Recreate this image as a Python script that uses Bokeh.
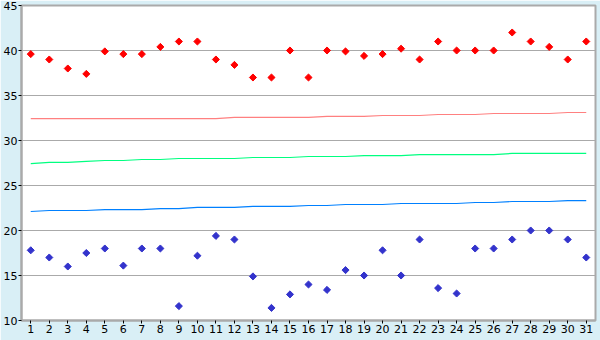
from bokeh.plotting import figure
from bokeh.models import Range1d, FixedTicker, ColumnDataSource
from bokeh.embed import file_html
from bokeh.resources import INLINE

days = list(range(1, 32))
t_max = [39.6, 39.0, 38.0, 37.4, 39.9, 39.6, 39.6, 40.4, 41.0, 41.0,
         39.0, 38.4, 37.0, 37.0, 40.0, 37.0, 40.0, 39.9, 39.4, 39.6,
         40.2, 39.0, 41.0, 40.0, 40.0, 40.0, 42.0, 41.0, 40.4, 39.0, 41.0]
t_min = [17.8, 17.0, 16.0, 17.5, 18.0, 16.1, 18.0, 18.0, 11.6, 17.2,
         19.4, 19.0, 14.9, 11.4, 12.9, 14.0, 13.4, 15.6, 15.0, 17.8,
         15.0, 19.0, 13.6, 13.0, 18.0, 18.0, 19.0, 20.0, 20.0, 19.0, 17.0]
norm_max = [32.44] * 11 + [32.56] * 5 + [32.67] * 3 + [32.78] * 3 + [32.89] * 3 + [33.0] * 4 + [33.11] * 2
norm_mean = [27.44, 27.56, 27.56, 27.67, 27.78, 27.78, 27.89, 27.89, 28.0, 28.0,
             28.0, 28.0, 28.11, 28.11, 28.11, 28.22, 28.22, 28.22, 28.33, 28.33,
             28.33, 28.44, 28.44, 28.44, 28.44, 28.44, 28.56, 28.56, 28.56, 28.56, 28.56]
norm_min = [22.11, 22.22, 22.22, 22.22, 22.33, 22.33, 22.33, 22.44, 22.44, 22.56,
            22.56, 22.56, 22.67, 22.67, 22.67, 22.78, 22.78, 22.89, 22.89, 22.89,
            23.0, 23.0, 23.0, 23.0, 23.11, 23.11, 23.22, 23.22, 23.22, 23.33, 23.33]
y_ticks = [10, 15, 20, 25, 30, 35, 40, 45]

src = ColumnDataSource(dict(day=days, tmax=t_max, tmin=t_min,
                            nmax=norm_max, nmean=norm_mean, nmin=norm_min))

p = figure(width=600, height=340, output_backend="svg", toolbar_location=None,
           x_range=Range1d(0.5, 31.5), y_range=Range1d(10, 45),
           min_border_left=20, min_border_right=5, min_border_top=5, min_border_bottom=20)
p.background_fill_color = "white"
p.border_fill_color = "#d9eff6"
p.outline_line_color = "#aaaaaa"
p.outline_line_width = 2

p.xgrid.visible = False
p.ygrid.grid_line_color = "#aaaaaa"
p.ygrid.grid_line_width = 1
p.yaxis.ticker = FixedTicker(ticks=y_ticks)
p.xaxis.ticker = FixedTicker(ticks=days)

for ax in (p.xaxis, p.yaxis):
    ax.axis_line_color = "#aaaaaa"
    ax.axis_line_width = 2
    ax.major_tick_line_color = "black"
    ax.major_tick_in = 0
    ax.major_tick_out = 3
    ax.minor_tick_line_color = None
    ax.major_label_text_font = "DejaVu Sans"
    ax.major_label_text_font_size = "11px"
    ax.major_label_text_color = "black"
    ax.major_label_standoff = 1

p.line("day", "nmax", source=src, line_color="#ff8080", line_width=1.2)
p.line("day", "nmean", source=src, line_color="#00ff80", line_width=1.2)
p.line("day", "nmin", source=src, line_color="#0080ff", line_width=1.2)
p.scatter("day", "tmax", source=src, marker="square", angle=0.785, size=5,
          fill_color="#ff0000", line_color="#ff0000", line_width=1)
p.scatter("day", "tmin", source=src, marker="square", angle=0.785, size=5,
          fill_color="#3333cc", line_color="#3333cc", line_width=1)

open("out.html", "w").write(file_html(p, INLINE))
